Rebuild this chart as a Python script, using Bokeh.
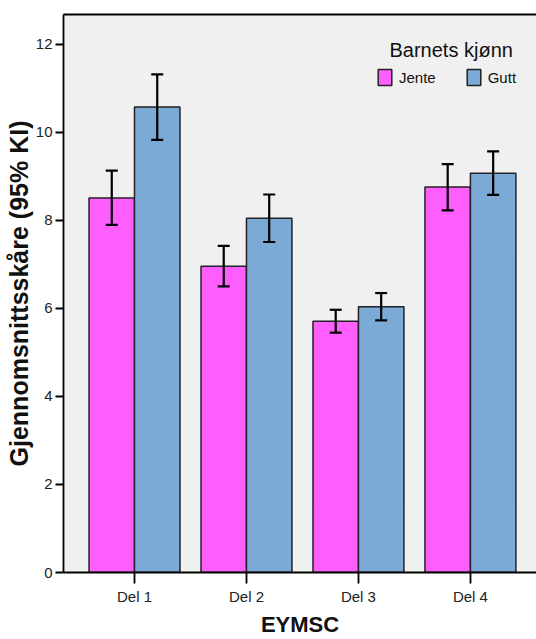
from bokeh.plotting import figure
from bokeh.models import ColumnDataSource, Whisker, TeeHead, LinearAxis, Label, Legend, LegendItem, FixedTicker, Range1d
from bokeh.embed import file_html
from bokeh.resources import INLINE

categories = ["Del 1", "Del 2", "Del 3", "Del 4"]
jente_mean = [8.51, 6.96, 5.71, 8.76]
jente_low = [7.90, 6.50, 5.45, 8.23]
jente_high = [9.13, 7.42, 5.97, 9.28]
gutt_mean = [10.58, 8.05, 6.04, 9.07]
gutt_low = [9.83, 7.51, 5.73, 8.58]
gutt_high = [11.32, 8.59, 6.35, 9.57]
y_ticks = [0, 2, 4, 6, 8, 10, 12]
series_names = ["Jente", "Gutt"]
series_colors = ["#FF5EFF", "#7BAAD6"]
legend_title = "Barnets kjønn"
x_title = "EYMSC"
y_title = "Gjennomsnittsskåre (95% KI)"

bw = 0.406
pos = list(range(1, len(categories) + 1))
FONT = "Liberation Sans"

p = figure(width=536, height=639, output_backend="svg", toolbar_location=None,
           x_range=Range1d(0.366, 4.59), y_range=Range1d(0, 12.68),
           min_border_left=63, min_border_right=0, min_border_top=14, min_border_bottom=67)
p.background_fill_color = "#F0F0F0"
p.border_fill_color = "white"
p.outline_line_color = None
p.grid.visible = False

src_j = ColumnDataSource(dict(x=[c - bw / 2 for c in pos], top=jente_mean, lo=jente_low, hi=jente_high))
src_g = ColumnDataSource(dict(x=[c + bw / 2 for c in pos], top=gutt_mean, lo=gutt_low, hi=gutt_high))

rj = p.vbar(x="x", top="top", width=bw, bottom=0, source=src_j, fill_color=series_colors[0],
            line_color="#222222", line_width=1.5)
rg = p.vbar(x="x", top="top", width=bw, bottom=0, source=src_g, fill_color=series_colors[1],
            line_color="#222222", line_width=1.5)

for src in (src_j, src_g):
    w = Whisker(base="x", lower="lo", upper="hi", source=src, line_color="black", line_width=2.2,
                level="overlay",
                upper_head=TeeHead(size=12, line_color="black", line_width=2.2),
                lower_head=TeeHead(size=12, line_color="black", line_width=2.2))
    p.add_layout(w)

# axes
xa = p.xaxis[0]
xa.ticker = FixedTicker(ticks=pos)
xa.major_label_overrides = {c: n for c, n in zip(pos, categories)}
xa.minor_tick_line_color = None
xa.major_tick_in = 0
xa.major_tick_out = 11
xa.major_tick_line_width = 1.8
xa.axis_line_width = 1.8
xa.major_label_text_font = FONT
xa.major_label_text_font_size = "15px"
xa.major_label_text_color = "#222222"
xa.major_label_standoff = 4
xa.axis_label = x_title
xa.axis_label_text_font = FONT
xa.axis_label_text_font_style = "bold"
xa.axis_label_text_font_size = "22px"
xa.axis_label_text_color = "#111111"
xa.axis_label_standoff = 4

ya = p.yaxis[0]
ya.ticker = FixedTicker(ticks=y_ticks)
ya.minor_tick_line_color = None
ya.major_tick_in = 0
ya.major_tick_out = 8
ya.major_tick_line_width = 1.8
ya.axis_line_width = 1.8
ya.major_label_text_font = FONT
ya.major_label_text_font_size = "15px"
ya.major_label_text_color = "#222222"
ya.major_label_standoff = 3
ya.axis_label = y_title
ya.axis_label_text_font = FONT
ya.axis_label_text_font_style = "bold"
ya.axis_label_text_font_size = "25px"
ya.axis_label_text_color = "#111111"
ya.axis_label_standoff = 0

top_axis = LinearAxis(major_tick_line_color=None, minor_tick_line_color=None,
                      major_label_text_font_size="0px", axis_line_width=1.8)
top_axis.ticker = FixedTicker(ticks=[])
p.add_layout(top_axis, "above")

# legend
p.add_layout(Label(x=326, y=522.5, x_units="screen", y_units="screen", text=legend_title,
                   text_baseline="alphabetic",
                   text_font=FONT, text_font_size="20px", text_color="#111111"))
leg = Legend(items=[LegendItem(label=series_names[0], renderers=[rj]),
                    LegendItem(label=series_names[1], renderers=[rg])],
             orientation="horizontal", location=(313, 485),
             background_fill_alpha=0, border_line_color=None,
             label_text_font=FONT, label_text_font_size="15px", label_text_color="#111111",
             glyph_width=17, glyph_height=20, label_standoff=6, spacing=29, padding=0, margin=0)
p.add_layout(leg, "center")

open("out.html", "w").write(file_html(p, INLINE))
